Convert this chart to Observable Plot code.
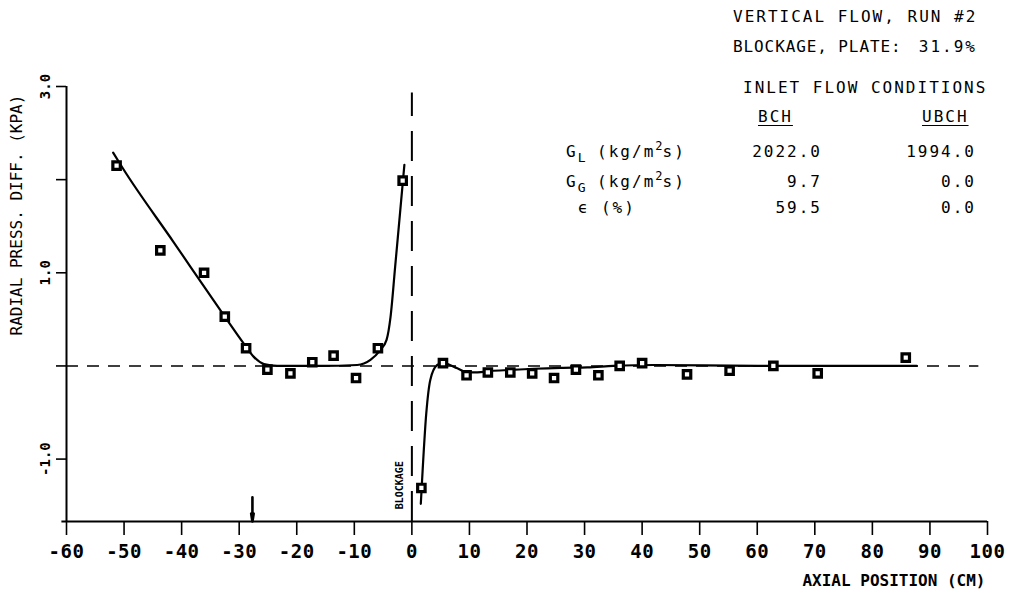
<!DOCTYPE html>
<html>
<head>
<meta charset="utf-8">
<script src="https://cdn.jsdelivr.net/npm/d3@7"></script>
<script src="https://cdn.jsdelivr.net/npm/@observablehq/plot@0.6"></script>
<style>
  html, body { margin: 0; padding: 0; background: #fff; }
  #wrap { position: relative; width: 1016px; height: 614px; overflow: hidden; }
  #notes { position: absolute; left: 0; top: 0; width: 1016px; height: 614px;
           font-family: "DejaVu Sans Mono", monospace; font-size: 16px; line-height: 16px;
           color: #000; letter-spacing: 2px; pointer-events: none; }
  #notes span { position: absolute; white-space: pre; }
  #notes sub { font-size: 13px; vertical-align: -5px; line-height: 0; letter-spacing: 0; }
  #notes sup { font-size: 12px; vertical-align: 7px; line-height: 0; letter-spacing: 0; }
  #notes .hdr { text-decoration: underline; text-underline-offset: 3px; }
  #notes .tight { letter-spacing: 0.9px; }
  g[aria-label="x-axis tick label"] text { font-weight: bold; font-size: 19px; letter-spacing: 0.5px; }
  g[aria-label="y-title"] text { letter-spacing: 0.8px; }
  g[aria-label="x-title"] text { letter-spacing: 1.3px; }
  g[aria-label="blockage"] text { letter-spacing: 0.6px; }
</style>
</head>
<body>
<div id="wrap"><div id="plot"></div><div id="notes"></div></div>
<script>
// ---- tick values / labels ----
const xTicks = [-60, -50, -40, -30, -20, -10, 0, 10, 20, 30, 40, 50, 60, 70, 80, 90, 100];
const yTicks = [3, 2, 1, 0, -1];
const yTickLabels = [3.0, 1.0, -1.0];
const xDomain = [-60, 100];
const yDomain = [-1.67, 3.0];
const xTitle = "AXIAL POSITION (CM)";
const yTitle = "RADIAL PRESS. DIFF. (KPA)";
const blockageText = "BLOCKAGE";
const blockagePos = [0];
const arrowPos = [-27.7];

// ---- measured points (BCH) ----
const bchX = [-51.3, -43.7, -36.1, -32.5, -28.8, -25.1, -21.1, -17.3, -13.6, -9.7, -5.9, -1.6,
              1.65, 5.4, 9.5, 13.2, 17.1, 20.9, 24.7, 28.5, 32.4, 36.1, 40.0, 47.8, 55.2, 62.8, 70.5, 85.8];
const bchY = [2.15, 1.24, 1.0, 0.53, 0.19, -0.04, -0.08, 0.04, 0.11, -0.13, 0.19, 1.99,
              -1.31, 0.03, -0.10, -0.07, -0.07, -0.08, -0.13, -0.04, -0.10, 0.0, 0.03, -0.09, -0.05, 0.0, -0.08, 0.09];

// ---- fitted curves ----
const fitUpX = [-51.9, -50.3, -41.4, -32.5, -29.2, -27.5, -25.7, -23.4, -16.0, -9.5, -7.2, -5.5, -4.4, -3.7, -2.9, -2.0, -1.3];
const fitUpY = [2.29, 2.13, 1.33, 0.53, 0.24, 0.10, 0.02, 0.0, 0.0, 0.01, 0.065, 0.17, 0.28, 0.53, 1.07, 1.68, 2.16];
const fitDownX = [1.55, 1.7, 2.5, 3.2, 4.4, 5.4, 7.9, 9.6, 11.4, 13.7, 17.2, 21.2, 25.9, 30.5, 35.0, 42.0, 60.0, 87.7];
const fitDownY = [-1.48, -1.31, -0.51, -0.15, 0.01, 0.03, -0.025, -0.07, -0.07, -0.054, -0.043, -0.03, -0.02, -0.015, 0.0, 0.01, 0.0, 0.0];

// ---- annotation text ----
const runTitle = "VERTICAL FLOW, RUN #2";
const plateLabel = "BLOCKAGE, PLATE:";
const plateValue = "31.9%";
const tableTitle = "INLET FLOW CONDITIONS";
const channels = ["BCH", "UBCH"];
const conditionNames = ["G<sub>L</sub> (kg/m<sup>2</sup>s)", "G<sub>G</sub> (kg/m<sup>2</sup>s)", " \u03F5 (%)"];
const bchConditions = [2022.0, 9.7, 59.5];
const ubchConditions = [1994.0, 0.0, 0.0];

const plot = Plot.plot({
  width: 1016, height: 614,
  marginLeft: 66, marginRight: 29, marginTop: 86, marginBottom: 93,
  style: { fontFamily: '"DejaVu Sans Mono", monospace', background: "white", color: "black", overflow: "visible" },
  x: { domain: xDomain },
  y: { domain: yDomain },
  marks: [
    Plot.ruleY([0], { x1: -60, x2: 98.5, stroke: "black", strokeWidth: 1.6, strokeDasharray: "12,9" }),
    Plot.ruleX(blockagePos, { y1: yDomain[0], y2: 2.93, stroke: "black", strokeWidth: 2, strokeDasharray: "30,15" }),
    Plot.ruleX([xDomain[0]], { y1: yDomain[0], y2: yDomain[1], stroke: "black", strokeWidth: 2 }),
    Plot.ruleY([yDomain[0]], { x1: -60.8, x2: xDomain[1], stroke: "black", strokeWidth: 2 }),
    Plot.axisX({ ticks: xTicks, tickSize: 14, tickPadding: 9, tickFormat: d => String(d), label: null, strokeWidth: 1.6 }),
    Plot.axisY({ ticks: yTicks, tickSize: 10, tickFormat: () => "", label: null, strokeWidth: 1.6 }),
    Plot.text(yTickLabels, { x: () => xDomain[0], y: d => d, text: d => d.toFixed(1), rotate: -90, dx: -21, fontSize: 14, fontWeight: "bold" }),
    Plot.text([yTitle], { x: () => xDomain[0], y: () => 1.62, dx: -50, rotate: -90, fontSize: 16, ariaLabel: "y-title" }),
    Plot.text([xTitle], { x: () => xDomain[1], y: () => yDomain[0], dx: -2, dy: 59, textAnchor: "end", fontSize: 16, fontWeight: "bold", ariaLabel: "x-title" }),
    Plot.text([blockageText], { x: () => blockagePos[0], y: () => -1.28, dx: -12, rotate: -90, fontSize: 10, fontWeight: "bold", ariaLabel: "blockage" }),
    Plot.arrow(arrowPos, { x1: d => d, x2: d => d, y1: -1.41, y2: yDomain[0], stroke: "black", strokeWidth: 2.6, headLength: 10, headAngle: 18 }),
    Plot.line(fitUpX, { x: fitUpX, y: fitUpY, curve: "monotone-x", stroke: "black", strokeWidth: 2.2 }),
    Plot.line(fitDownX, { x: fitDownX, y: fitDownY, curve: "monotone-x", stroke: "black", strokeWidth: 2.2 }),
    Plot.dot(bchX, { x: bchX, y: bchY, symbol: "square", r: 4.2, fill: "white", stroke: "black", strokeWidth: 3.2 })
  ]
});
document.getElementById("plot").append(plot);

// ---- annotation block (HTML) ----
const notes = document.getElementById("notes");
function put(html, pos, cls) {
  const s = document.createElement("span");
  s.innerHTML = html;
  if (cls) s.className = cls;
  if (pos.left != null) s.style.left = pos.left + "px";
  if (pos.right != null) s.style.right = (1016 - pos.right - 2) + "px";
  s.style.top = pos.top + "px";
  notes.append(s);
  return s;
}
put(runTitle, { left: 733, top: 9 });
put(plateLabel, { left: 733, top: 39 }, "tight");
put(plateValue, { right: 975, top: 39 });
put(tableTitle, { left: 743, top: 80 });
put(channels[0], { left: 758, top: 109 }, "hdr");
put(channels[1], { left: 922, top: 109 }, "hdr");
const rowTops = [144, 174, 200];
conditionNames.forEach((n, i) => {
  put(n, { left: 566, top: rowTops[i] });
  put(bchConditions[i].toFixed(1), { right: 820, top: rowTops[i] });
  put(ubchConditions[i].toFixed(1), { right: 974, top: rowTops[i] });
});
</script>
</body>
</html>
